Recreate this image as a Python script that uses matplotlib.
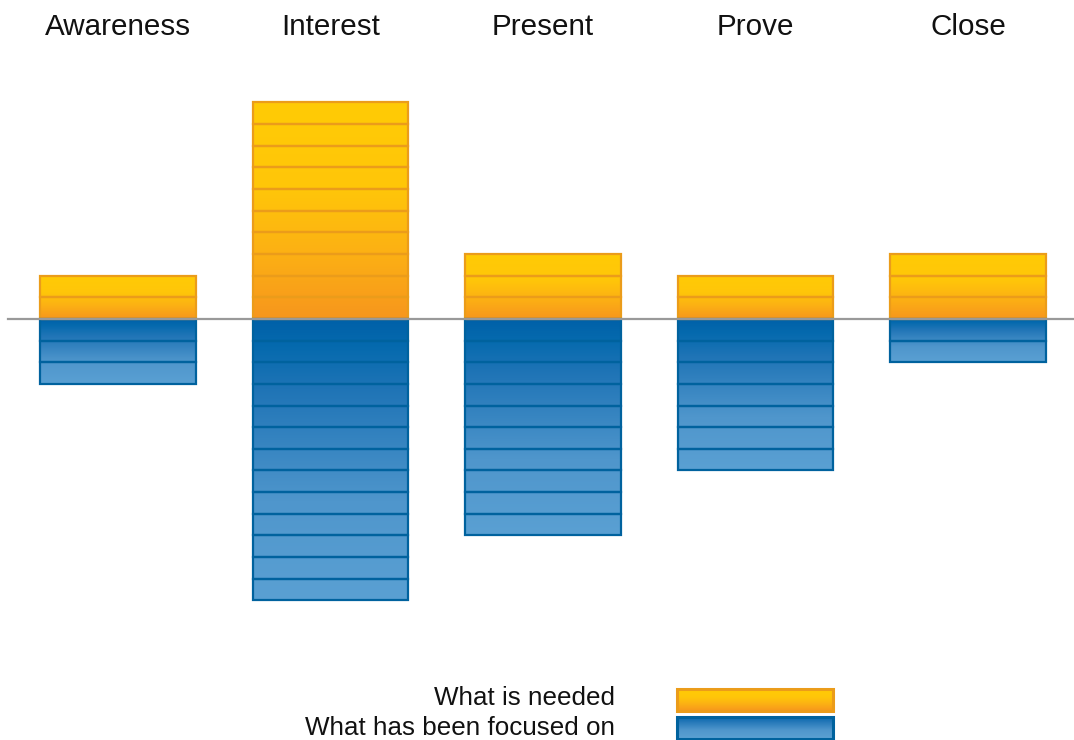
import numpy as np
import matplotlib
matplotlib.use("Agg")
import matplotlib.pyplot as plt
from matplotlib.colors import LinearSegmentedColormap
from matplotlib.patches import Rectangle

# data: number of units per stage
stages = ["Awareness", "Interest", "Present", "Prove", "Close"]
needed = [2, 10, 3, 2, 3]
focused = [3, 13, 10, 7, 2]
legend_labels = ["What is needed", "What has been focused on"]

plt.rcParams['font.family'] = ['Liberation Sans', 'DejaVu Sans']

# gradients (value 0 = bottom of image, 1 = top)
yellow_cm = LinearSegmentedColormap.from_list(
    "yel", [(0, "#f7961d"), (0.3, "#fcb014"), (0.6, "#ffc609"), (1, "#ffcb05")])
blue_cm = LinearSegmentedColormap.from_list(
    "blu", [(0, "#5aa0d3"), (0.35, "#4f96cc"), (0.75, "#1f74b6"), (0.9, "#056aae"), (1, "#0060a8")])
grad = np.linspace(0, 1, 256).reshape(-1, 1)

fig = plt.figure(figsize=(10.74, 7.40), dpi=100)
ax = fig.add_axes([0, 0, 1, 1])
ax.axis("off")

W = 0.734
x = np.arange(len(stages))

for i in x:
    # gradient fill for each stack
    ax.imshow(grad, cmap=yellow_cm, origin="lower", aspect="auto",
              extent=(i - W / 2, i + W / 2, 0, needed[i]), zorder=1)
    ax.imshow(grad, cmap=blue_cm, origin="lower", aspect="auto",
              extent=(i - W / 2, i + W / 2, -focused[i], 0), zorder=1)
    # segment outlines
    ax.bar([i] * needed[i], [1] * needed[i], W, bottom=np.arange(needed[i]),
           facecolor="none", edgecolor="#eb9c1a", linewidth=1.6, zorder=2)
    ax.bar([i] * focused[i], [-1] * focused[i], W, bottom=-np.arange(focused[i]),
           facecolor="none", edgecolor="#00629e", linewidth=1.6, zorder=2)
    ax.text(i, 13.5, stages[i], ha="center", va="center", fontsize=21.3, color="#111111")

ax.set_xlim(-0.5553, 4.4988)
ax.set_ylim(-19.45, 14.73)
ax.axhline(0, xmin=8 / 1074, xmax=1, color="#999999", linewidth=1.6, zorder=3)

# legend
for k, (lab, cm, ec) in enumerate(zip(legend_labels, [yellow_cm, blue_cm],
                                       ["#eb9c1a", "#00629e"])):
    y0 = 1 - (711 + k * 27.5) / 740
    h = 22 / 740
    lax = fig.add_axes([677 / 1074, y0, 156 / 1074, h])
    lax.imshow(grad, cmap=cm, origin="lower", aspect="auto", extent=(0, 1, 0, 1))
    lax.add_patch(Rectangle((0, 0), 1, 1, facecolor="none", edgecolor=ec,
                            linewidth=2.2, transform=lax.transAxes, clip_on=False))
    lax.set_xlim(0, 1)
    lax.set_ylim(0, 1)
    lax.axis("off")
    fig.text(615 / 1074, 1 - (698 + k * 30) / 740, lab, ha="right", va="center",
             fontsize=18.7, color="#111111")

fig.savefig("out.png", dpi=100)
plt.close()
